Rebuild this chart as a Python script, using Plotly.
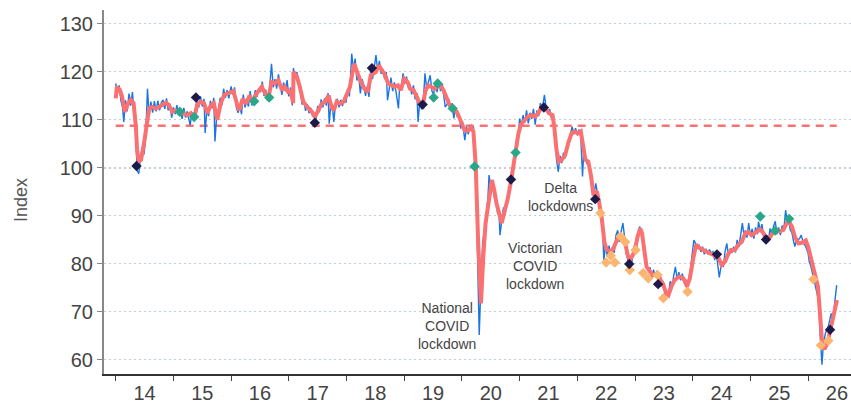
import plotly.graph_objects as go

# ---------------- data ----------------
years = list(range(2014, 2027))
year_labels = [str(y)[2:] for y in years]
LONG_RUN_AVG = 108.8

# smoothed index (decimal year, value)
smooth_pts = [
    (2014.00,114.5),(2014.02,116.9),(2014.07,116.3),(2014.11,114.9),(2014.16,111.7),(2014.20,113.1),(2014.26,114.2),(2014.31,113.5),
    (2014.35,108.6),(2014.37,103.8),(2014.40,101.3),(2014.44,101.7),(2014.49,105.1),(2014.54,108.6),(2014.58,112.4),(2014.63,112.7),
    (2014.69,112.4),(2014.75,112.7),(2014.81,113.1),(2014.87,113.6),(2014.92,113.1),(2014.98,111.7),
    (2015.04,112.0),(2015.11,111.7),(2015.18,111.4),(2015.24,111.0),(2015.30,111.4),(2015.36,110.3),(2015.41,113.1),(2015.47,113.8),
    (2015.53,113.5),(2015.59,111.4),(2015.65,113.1),(2015.70,113.5),(2015.76,110.0),(2015.82,113.5),(2015.88,115.2),(2015.93,115.5),
    (2015.98,115.8),(2016.04,116.0),(2016.10,113.4),(2016.14,112.0),(2016.20,114.4),(2016.26,113.4),(2016.32,115.1),(2016.37,113.8),
    (2016.44,115.5),(2016.53,116.9),(2016.59,115.5),(2016.65,114.8),(2016.70,117.9),(2016.76,117.6),(2016.82,118.3),(2016.88,116.2),
    (2016.93,116.9),(2016.99,115.8),(2017.03,116.0),(2017.06,113.5),(2017.075,113.5),
    (2017.08,120.0),(2017.14,119.0),(2017.19,116.9),(2017.25,113.8),(2017.32,112.7),(2017.40,111.7),(2017.45,110.6),(2017.51,112.0),
    (2017.57,113.4),(2017.63,113.8),(2017.69,115.1),(2017.74,112.7),(2017.78,112.0),(2017.83,113.8),(2017.89,113.4),(2017.95,113.8),
    (2018.00,115.1),(2018.06,116.9),(2018.13,121.7),(2018.18,120.0),
    (2018.25,117.9),(2018.31,116.5),(2018.37,115.8),(2018.42,119.3),(2018.46,119.6),(2018.51,120.0),(2018.56,121.4),(2018.61,120.3),
    (2018.67,119.3),(2018.72,117.6),(2018.78,117.2),(2018.83,116.9),(2018.89,117.2),(2018.94,116.2),(2019.00,118.6),(2019.06,117.9),
    (2019.10,116.5),(2019.16,116.2),(2019.22,114.8),(2019.27,113.4),(2019.32,113.0),(2019.37,116.2),(2019.42,117.2),(2019.48,116.9),
    (2019.53,116.5),(2019.59,117.2),(2019.64,116.9),(2019.68,116.2),(2019.74,114.4),(2019.79,113.0),(2019.85,112.4),(2019.91,111.7),
    (2019.95,110.6),(2020.00,108.9),(2020.05,107.8),(2020.11,107.8),(2020.16,108.5),(2020.20,107.5),
    (2020.24,100.3),(2020.28,85.0),(2020.33,71.8),(2020.37,81.5),(2020.41,88.5),(2020.46,92.6),(2020.52,97.5),(2020.56,95.4),
    (2020.60,92.6),(2020.66,89.9),(2020.69,88.5),(2020.73,90.6),(2020.79,93.3),(2020.85,97.2),(2020.89,100.3),(2020.93,103.1),
    (2020.98,107.2),(2021.02,109.0),(2021.08,110.0),(2021.14,110.7),(2021.21,111.0),(2021.27,110.7),(2021.32,111.4),(2021.39,112.8),
    (2021.45,112.4),(2021.51,111.4),(2021.57,111.0),(2021.60,108.6),(2021.64,103.7),(2021.68,101.3),(2021.73,101.7),(2021.79,102.7),
    (2021.84,105.1),(2021.90,107.2),(2021.95,107.6),(2022.01,107.2),(2022.06,107.6),(2022.10,104.4),(2022.14,101.7),(2022.19,101.3),
    (2022.24,98.2),(2022.28,94.3),
    (2022.34,95.1),(2022.38,92.6),(2022.42,89.9),(2022.47,84.5),(2022.51,83.0),(2022.56,82.6),(2022.61,82.9),(2022.67,84.5),
    (2022.73,86.0),(2022.78,85.7),(2022.83,84.3),(2022.87,82.0),(2022.91,80.8),(2022.96,81.8),(2023.00,83.0),(2023.04,85.5),
    (2023.09,87.4),(2023.12,86.5),(2023.16,82.2),(2023.20,79.4),(2023.26,78.4),(2023.32,77.7),(2023.38,77.7),(2023.43,77.0),
    (2023.48,76.0),(2023.54,73.9),(2023.58,73.5),(2023.64,75.6),(2023.69,76.7),(2023.77,77.4),(2023.84,77.0),(2023.90,75.3),
    (2023.95,77.0),(2024.01,81.2),(2024.06,84.0),(2024.12,83.3),(2024.17,82.9),(2024.23,82.6),(2024.30,82.2),(2024.36,81.9),
    (2024.45,81.2),(2024.50,79.8),(2024.56,80.5),(2024.62,82.2),(2024.68,82.9),(2024.73,82.9),(2024.79,84.0),(2024.85,84.6),
    (2024.91,86.4),(2024.96,86.7),(2025.02,86.0),(2025.08,86.4),(2025.17,87.2),(2025.22,86.5),(2025.28,85.3),(2025.34,85.6),
    (2025.40,86.7),(2025.46,87.1),(2025.51,86.8),(2025.57,87.1),(2025.63,88.5),(2025.67,88.8),(2025.72,87.8),(2025.77,85.7),
    (2025.83,84.3),(2025.89,84.4),(2025.96,84.9),(2026.00,83.6),(2026.06,80.8),(2026.12,78.1),(2026.17,75.3),(2026.21,69.0),
    (2026.24,63.8),(2026.28,62.2),(2026.32,63.1),(2026.36,64.9),(2026.41,67.6),(2026.46,70.1),(2026.50,72.5),
]

# weekly index (decimal year, value)
weekly_pts = [
    (2014.00,117.6),(2014.03,115.5),(2014.06,117.2),(2014.09,114.0),(2014.12,112.5),(2014.14,109.6),(2014.17,114.1),(2014.20,111.8),
    (2014.23,115.5),(2014.26,113.0),(2014.29,115.8),(2014.32,111.5),(2014.35,106.5),(2014.37,99.5),(2014.40,98.8),(2014.43,102.5),
    (2014.46,104.0),(2014.49,102.8),(2014.52,106.5),(2014.55,116.5),(2014.58,110.9),(2014.61,113.8),(2014.64,111.5),(2014.67,113.9),
    (2014.70,111.8),(2014.73,114.0),(2014.76,112.0),(2014.79,113.6),(2014.82,114.2),(2014.85,112.3),(2014.88,114.5),(2014.91,112.0),
    (2014.94,113.4),(2014.97,110.5),
    (2015.00,112.6),(2015.03,111.2),(2015.06,113.1),(2015.09,111.0),(2015.12,112.3),(2015.15,110.2),(2015.18,112.5),(2015.21,110.5),
    (2015.24,111.8),(2015.27,110.0),(2015.29,108.9),(2015.32,111.6),(2015.35,109.8),(2015.38,112.0),(2015.41,114.5),(2015.44,112.6),
    (2015.47,114.9),(2015.50,112.8),(2015.53,114.4),(2015.55,107.3),(2015.58,112.3),(2015.61,110.8),(2015.64,114.0),(2015.67,112.4),
    (2015.70,114.6),(2015.72,105.5),(2015.75,110.8),(2015.78,112.0),(2015.81,114.6),(2015.84,113.0),(2015.87,116.5),(2015.90,114.6),
    (2015.93,116.2),(2015.96,114.5),
    (2016.00,117.0),(2016.03,115.2),(2016.06,116.8),(2016.09,112.6),(2016.12,111.5),(2016.15,112.8),(2016.18,111.2),(2016.21,115.3),
    (2016.24,112.6),(2016.27,114.0),(2016.30,112.8),(2016.33,116.0),(2016.36,113.0),(2016.39,114.5),(2016.42,116.2),(2016.45,114.8),
    (2016.48,116.5),(2016.51,115.8),(2016.54,118.0),(2016.57,115.0),(2016.60,116.3),(2016.63,114.0),(2016.66,115.6),(2016.70,121.7),
    (2016.73,116.8),(2016.76,118.5),(2016.79,116.5),(2016.82,119.5),(2016.85,117.2),(2016.88,115.2),(2016.91,117.8),(2016.94,116.0),
    (2016.97,118.3),(2017.00,114.9),(2017.03,116.8),(2017.06,113.0),
    (2017.08,120.8),(2017.11,118.8),(2017.14,120.0),(2017.17,117.4),(2017.20,116.0),(2017.23,113.2),(2017.26,114.3),(2017.29,111.9),
    (2017.32,113.3),(2017.35,111.4),(2017.38,112.5),(2017.41,110.9),(2017.44,111.4),(2017.47,110.0),(2017.50,112.9),(2017.53,111.6),
    (2017.56,114.3),(2017.59,112.6),(2017.62,114.5),(2017.65,113.0),(2017.68,115.6),(2017.70,109.2),(2017.73,113.5),(2017.76,112.2),
    (2017.78,109.6),(2017.81,113.5),(2017.84,114.4),(2017.87,112.6),(2017.90,114.2),(2017.93,112.9),(2017.96,114.7),(2017.99,113.6),
    (2018.02,116.2),(2018.05,114.9),(2018.07,119.0),(2018.09,123.8),(2018.12,120.5),
    (2018.15,122.8),(2018.18,118.2),(2018.21,119.5),(2018.24,115.5),(2018.27,118.5),(2018.30,117.2),(2018.33,115.0),(2018.36,117.0),
    (2018.39,114.8),(2018.42,120.5),(2018.45,118.5),(2018.48,120.8),(2018.51,123.5),(2018.54,120.4),(2018.57,122.3),(2018.60,119.6),
    (2018.63,120.6),(2018.66,118.5),(2018.69,120.0),(2018.71,114.1),(2018.74,116.5),(2018.77,118.8),(2018.80,116.0),(2018.83,117.8),
    (2018.86,115.7),(2018.90,112.4),(2018.92,116.8),(2018.95,117.0),(2018.98,119.7),(2019.01,117.5),
    (2019.04,119.0),(2019.07,116.8),(2019.10,117.4),(2019.13,115.3),(2019.16,117.2),(2019.19,114.3),(2019.22,115.6),(2019.24,109.6),
    (2019.27,114.0),(2019.30,112.2),(2019.33,113.8),(2019.36,119.7),(2019.39,116.5),(2019.42,118.0),(2019.45,119.3),(2019.48,116.0),
    (2019.51,115.3),(2019.54,117.8),(2019.57,115.8),(2019.60,118.2),(2019.63,116.0),(2019.66,117.5),(2019.69,115.2),(2019.71,112.7),
    (2019.74,113.2),(2019.77,114.4),(2019.80,112.3),(2019.83,113.5),(2019.86,110.3),(2019.89,112.6),(2019.92,110.6),(2019.95,111.3),
    (2019.98,108.2),(2020.01,109.6),(2020.05,105.8),(2020.08,108.5),(2020.11,107.0),(2020.14,108.9),(2020.17,107.9),(2020.20,108.6),
    (2020.22,104.0),
    (2020.24,100.0),(2020.27,82.0),(2020.30,65.2),(2020.33,76.0),(2020.36,84.5),(2020.39,87.0),(2020.42,90.0),(2020.45,93.5),
    (2020.47,98.5),(2020.50,96.0),(2020.53,96.8),(2020.56,94.0),(2020.59,93.2),(2020.62,90.4),(2020.64,91.5),(2020.66,86.0),
    (2020.69,89.0),(2020.72,91.8),(2020.75,90.2),(2020.78,93.5),(2020.81,94.8),(2020.84,97.6),(2020.87,99.0),(2020.90,101.5),
    (2020.93,103.5),(2020.95,106.5),(2020.98,107.0),(2021.00,110.3),(2021.03,108.6),(2021.06,111.0),(2021.09,109.5),(2021.12,112.0),
    (2021.15,109.3),(2021.18,111.5),(2021.21,110.2),(2021.24,112.3),(2021.27,109.0),(2021.30,112.0),(2021.33,110.8),(2021.36,113.5),
    (2021.39,112.0),(2021.43,115.2),(2021.46,112.5),(2021.49,111.2),(2021.52,112.3),(2021.55,110.3),(2021.58,110.8),(2021.61,107.0),
    (2021.64,101.7),(2021.67,99.2),(2021.70,102.5),(2021.73,101.0),(2021.76,103.2),(2021.79,102.0),(2021.82,104.9),(2021.85,105.5),
    (2021.88,107.0),(2021.91,108.6),(2021.94,107.0),(2021.97,108.3),(2022.00,106.8),(2022.03,108.0),(2022.06,106.5),(2022.09,98.2),
    (2022.11,103.0),(2022.14,101.9),(2022.17,100.8),(2022.20,101.4),(2022.23,97.5),(2022.26,95.4),(2022.29,94.7),(2022.32,96.8),
    (2022.35,94.5),(2022.38,93.8),(2022.41,90.6),(2022.44,86.4),
    (2022.46,80.8),(2022.49,84.0),(2022.52,81.5),(2022.55,83.8),(2022.58,82.0),(2022.61,83.5),(2022.64,82.3),(2022.67,86.0),
    (2022.70,87.0),(2022.73,84.6),(2022.76,86.8),(2022.79,88.5),(2022.82,85.5),(2022.85,82.0),(2022.88,80.6),(2022.91,81.5),
    (2022.94,79.7),(2022.97,83.0),(2023.00,84.2),(2023.03,83.5),(2023.06,86.5),(2023.08,87.8),(2023.11,86.2),(2023.14,85.0),
    (2023.17,80.8),(2023.20,79.5),(2023.23,78.6),(2023.26,79.3),(2023.29,77.0),(2023.32,78.8),(2023.35,77.4),(2023.38,78.6),
    (2023.41,76.6),(2023.44,77.8),(2023.47,75.3),(2023.50,76.0),(2023.52,73.2),(2023.55,74.4),(2023.58,73.8),(2023.61,76.4),
    (2023.64,75.0),(2023.67,77.5),(2023.70,79.4),(2023.73,76.8),(2023.76,78.3),(2023.79,76.6),(2023.82,78.0),(2023.85,76.2),
    (2023.88,76.8),(2023.90,74.9),(2023.93,76.5),(2023.96,78.8),(2023.99,82.0),(2024.02,85.0),(2024.05,84.2),(2024.08,83.3),
    (2024.11,84.0),(2024.14,82.5),(2024.17,83.6),(2024.20,82.0),(2024.23,83.2),(2024.26,82.0),(2024.29,83.0),(2024.32,82.3),
    (2024.35,82.6),(2024.38,80.8),(2024.41,82.2),(2024.44,79.5),(2024.46,77.2),(2024.50,80.2),(2024.53,79.4),(2024.56,82.5),
    (2024.59,84.3),(2024.62,81.8),(2024.65,83.2),(2024.68,82.3),(2024.71,83.6),(2024.74,82.4),(2024.77,85.0),(2024.80,83.5),
    (2024.84,86.5),(2024.86,88.5),(2024.89,85.8),(2024.91,87.0),(2024.94,85.5),(2024.97,88.5),(2025.00,85.8),(2025.03,87.3),
    (2025.06,85.3),(2025.09,87.6),(2025.12,86.2),(2025.14,88.8),(2025.17,87.0),(2025.20,88.3),(2025.23,85.5),(2025.26,84.5),
    (2025.29,86.0),(2025.31,84.6),(2025.34,87.4),(2025.37,85.8),(2025.40,87.8),(2025.43,88.9),(2025.46,86.2),(2025.49,87.6),
    (2025.52,86.0),(2025.55,88.0),(2025.58,87.2),(2025.61,91.2),(2025.64,88.6),(2025.66,89.3),(2025.69,87.1),(2025.72,86.5),
    (2025.75,84.6),(2025.77,83.6),(2025.80,85.3),(2025.83,85.0),(2025.86,85.5),(2025.88,86.0),(2025.92,84.3),(2025.96,83.6),
    (2026.00,82.2),(2026.02,80.5),(2026.05,79.4),(2026.09,77.4),(2026.13,75.6),(2026.18,72.5),(2026.21,64.9),(2026.24,59.0),
    (2026.265,63.5),(2026.30,65.6),(2026.35,67.0),(2026.40,69.7),(2026.42,67.6),(2026.455,70.8),(2026.495,75.6),
]

budget_x = [2014.36, 2015.39, 2017.45, 2018.44, 2019.32, 2020.85, 2021.42, 2022.31, 2022.90, 2023.40, 2024.42, 2025.27, 2026.38]
budget_y = [100.4, 114.7, 109.4, 120.8, 113.2, 97.6, 112.6, 93.5, 80.0, 75.8, 82.0, 85.1, 66.3]

cut_x = [2015.11, 2015.36, 2016.40, 2016.66, 2019.51, 2019.58, 2019.84, 2020.22, 2020.93, 2025.17, 2025.43, 2025.67]
cut_y = [111.7, 110.6, 113.9, 114.65, 114.65, 117.6, 112.4, 100.3, 103.2, 89.9, 86.95, 89.4]

hike_x = [2022.40, 2022.50, 2022.58, 2022.65, 2022.75, 2022.83, 2022.91, 2023.01, 2023.14, 2023.23, 2023.39,
          2023.49, 2023.91, 2026.09, 2026.22, 2026.35]
hike_y = [90.6, 80.3, 81.7, 80.3, 85.7, 84.6, 78.75, 82.9, 78.1, 77.0, 77.7, 72.85, 74.2, 76.8, 63.05, 64.0]

event_labels = ["National<br>COVID<br>lockdown", "Victorian<br>COVID<br>lockdown", "Delta<br>lockdowns"]
event_x = [2019.745, 2021.258, 2021.709]
event_y = [67.15, 79.65, 93.9]

# ---------------- styles ----------------
RED = "#fb7070"
BLUE = "#1a74e4"
NAVY = "#1c1a48"
TEAL = "#2aa78b"
ORANGE = "#fcb56e"
FONT = "Liberation Sans, Arial, sans-serif"

smooth_x = [p[0] for p in smooth_pts]
smooth_y = [p[1] for p in smooth_pts]
weekly_x = [p[0] for p in weekly_pts]
weekly_y = [p[1] for p in weekly_pts]

fig = go.Figure()
fig.add_trace(go.Scatter(x=[weekly_x[0], weekly_x[-1]], y=[LONG_RUN_AVG, LONG_RUN_AVG], mode="lines",
                         line=dict(color=RED, width=2.5, dash="8px,6px"), hoverinfo="skip"))
fig.add_trace(go.Scatter(x=weekly_x, y=weekly_y, mode="lines", line=dict(color=BLUE, width=1.4)))
fig.add_trace(go.Scatter(x=smooth_x, y=smooth_y, mode="lines", line=dict(color=RED, width=4)))
for xs, ys, col in [(cut_x, cut_y, TEAL), (hike_x, hike_y, ORANGE), (budget_x, budget_y, NAVY)]:
    fig.add_trace(go.Scatter(x=xs, y=ys, mode="markers",
                             marker=dict(symbol="diamond", size=8, color=col, line=dict(width=0))))

for t, x, y in zip(event_labels, event_x, event_y):
    fig.add_annotation(x=x, y=y, text=t, showarrow=False, xanchor="center", yanchor="middle",
                       font=dict(family=FONT, size=14, color="#444444"))

fig.add_annotation(xref="paper", yref="paper", x=-0.111, y=0.478, text="Index", textangle=-90,
                   showarrow=False, xanchor="center", yanchor="middle",
                   font=dict(family=FONT, size=18, color="#555555"))

fig.add_shape(type="line", xref="paper", yref="y", x0=0, x1=1, y0=100, y1=100,
              line=dict(color="#9a9a9a", width=1.3, dash="2px,3px"), layer="below")

fig.update_layout(
    width=851, height=405,
    margin=dict(l=104, r=0, t=10, b=31),
    paper_bgcolor="white", plot_bgcolor="white",
    showlegend=False,
    font=dict(family=FONT),
    xaxis=dict(range=[2013.797, 2026.743], tickmode="array",
               tickvals=[y + 0.5 for y in years], ticktext=year_labels, ticks="",
               tickfont=dict(size=20, color="#444444"),
               showgrid=False, zeroline=False, showline=True, linecolor="#333333", linewidth=1.5,
               minor=dict(tickmode="array", tickvals=years, ticks="outside", ticklen=5,
                          tickcolor="#444444", tickwidth=1, showgrid=False)),
    yaxis=dict(range=[57.08, 132.9], tickmode="array", tickvals=list(range(60, 131, 10)),
               ticks="outside", ticklen=5, tickcolor="#888888", tickwidth=1,
               tickfont=dict(size=20, color="#444444"),
               showgrid=True, gridcolor="#bfd0dc", gridwidth=1, griddash="2px,3px",
               zeroline=False, showline=True, linecolor="#888888", linewidth=2),
)

fig.write_html("out.html", config={"displayModeBar": False},
               post_script="document.body.style.margin='0px';document.body.style.overflow='hidden';")
